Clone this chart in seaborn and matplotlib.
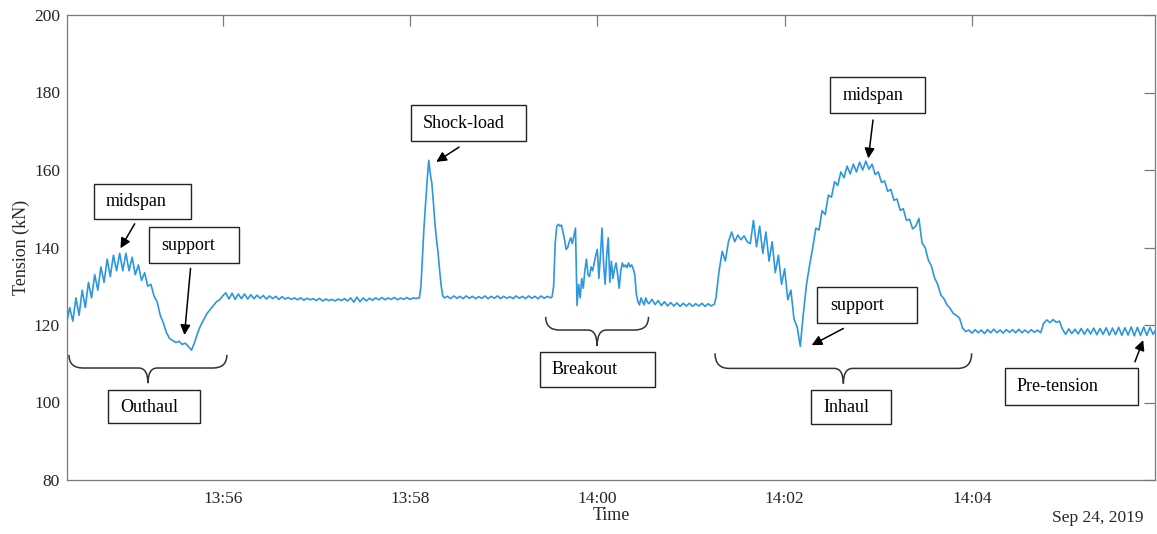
import matplotlib
matplotlib.use('Agg')
import matplotlib.pyplot as plt
import matplotlib.dates as mdates
from matplotlib.path import Path
from matplotlib.patches import PathPatch, Rectangle
import pandas as pd
import seaborn as sns

day = '2019-09-24 '

# tension record (kN)
outhaul_start, outhaul_step = '13:54:20', 2
outhaul_kN = [120.5, 124.5, 121, 127, 122.5, 129, 124.5, 131, 127, 133,
              129, 135, 131, 137, 132.5, 138, 134, 138.5, 134, 138.5,
              134, 137.5, 133, 135.5, 131.5, 133.5, 130, 130.5, 127.5, 126,
              122.5, 120.5, 118, 116.5, 116, 115.5, 115.8, 115, 115.3, 114.5,
              113.5, 115.5, 118, 120, 121.5, 123, 124, 125, 126, 126.5, 127.5]

steady1_start, steady1_step = '13:56:02', 2
steady1_kN = [128.3, 126.7, 128.2, 126.6, 128.0, 126.8, 128.0, 126.7, 127.8, 126.8,
              127.7, 126.9, 127.6, 126.7, 127.5, 126.8, 127.4, 126.6, 127.3, 126.7,
              127.1, 126.6, 127.0, 126.5, 127.0, 126.4, 126.9, 126.5, 126.8, 126.3,
              126.9, 126.2, 126.7, 126.3, 126.6, 126.2, 126.7, 126.3, 126.8, 126.2,
              127.0, 125.9, 127.2, 126.0, 127.0, 126.2, 126.9, 126.4, 127.0, 126.5,
              127.1, 126.5, 127.0, 126.6, 127.1, 126.5, 127.0, 126.6, 127.1, 126.6,
              127.0, 126.8]

shock_start, shock_step = '13:58:05', 1
shock_kN = [127, 127, 130, 138, 145.5, 151.5, 157.5, 162.5, 159, 156.5,
            151.5, 146, 142, 138.5, 134, 130, 127.5, 127]

steady2_start, steady2_step = '13:58:24', 2
steady2_kN = [127.4, 126.8, 127.5, 126.9, 127.4, 126.8, 127.5, 126.9, 127.4, 126.8,
              127.3, 126.9, 127.5, 126.8, 127.4, 126.9, 127.5, 126.8, 127.4, 126.9,
              127.3, 126.8, 127.5, 126.9, 127.4, 126.8, 127.5, 126.9, 127.4, 126.8,
              127.5, 126.9, 127.4, 127.0]

breakout_start, breakout_step = '13:59:31', 1
breakout_kN = [127.3, 130, 141, 145.5, 146, 145.5, 145.8, 144, 142, 139.5,
               140, 141.5, 142.5, 141, 143, 145, 125, 130.5, 127, 132,
               129.5, 134, 137, 133, 132.5, 135, 134, 136, 138, 139.5,
               132, 138, 145, 136, 130.5, 138, 142.5, 131, 136.5, 132,
               134.5, 136, 133, 129.5, 134, 136, 135, 135.5, 134.8, 136,
               135, 135.5, 134.5, 133, 128, 126, 125.2, 127, 126, 125.2,
               127, 126, 125.5]

steady3_start, steady3_step = '14:00:35', 2
steady3_kN = [126.6, 125.3, 126.3, 125.0, 126.0, 124.9, 125.8, 124.9, 125.7, 124.8,
              125.6, 124.9, 125.6, 124.8, 125.5, 124.9, 125.6, 124.8, 125.5, 124.9,
              125.4]

inhaul_start, inhaul_step = '14:01:16', 2
inhaul_kN = [127, 134, 139, 136.5, 141.5, 144, 141.5, 143.2, 142, 143,
             141.5, 141, 147, 140.2, 145.5, 138.5, 144, 136.5, 141.5, 133.5,
             138, 130.5, 134.5, 126.5, 129, 121.5, 119.5, 114.5, 123, 130.5,
             135.5, 140, 145, 144.5, 149.5, 148.5, 153.5, 153, 157, 156,
             159.5, 158, 161, 159, 161.5, 159.5, 162, 160, 162.3, 160.2,
             161.5, 158.8, 159.5, 156.8, 157.2, 154.5, 155, 152.2, 152.5, 149.6,
             150, 147, 147.3, 144.8, 145.5, 147.5, 141.2, 140, 136.8, 135.2,
             132.2, 130.5, 127.8, 126.8, 125.2, 124.3, 123, 122.5, 121.8, 119.2,
             118.3]

tail_start, tail_step = '14:03:58', 2
tail_kN = [118.7, 117.9, 118.8, 118.0, 118.7, 117.8, 118.8, 118.0, 118.9, 118.0,
           118.7, 117.9, 118.8, 118.1, 118.8, 118.0, 118.9, 118.0, 118.7, 118.0,
           118.8, 118.1, 118.7, 118.0, 120.5, 121.3, 120.6, 121.4, 120.7, 121.0,
           118.9, 117.6, 119.0, 117.8, 118.9, 117.7, 119.1, 117.6, 119.0, 117.7,
           119.2, 117.5, 119.1, 117.6, 119.3, 117.4, 119.2, 117.5, 119.4, 117.3,
           119.3, 117.4, 119.5, 117.2, 119.4, 117.3, 119.5, 117.3, 119.4, 117.6,
           118.9]

segments = [
    (outhaul_start, outhaul_step, outhaul_kN),
    (steady1_start, steady1_step, steady1_kN),
    (shock_start, shock_step, shock_kN),
    (steady2_start, steady2_step, steady2_kN),
    (breakout_start, breakout_step, breakout_kN),
    (steady3_start, steady3_step, steady3_kN),
    (inhaul_start, inhaul_step, inhaul_kN),
    (tail_start, tail_step, tail_kN),
]
frames = []
for start, step, vals in segments:
    frames.append(pd.DataFrame({
        'Time': pd.date_range(day + start, periods=len(vals), freq=f'{step}s'),
        'Tension': vals,
    }))
df = pd.concat(frames, ignore_index=True)

# annotation layout (time, kN)
boxes = [
    # label, left, right, bottom, top, text x, text y
    ('midspan', '13:54:37.5', '13:55:39.4', 147.4, 156.4, '13:54:45.0', 151.8),
    ('support', '13:55:13.0', '13:56:10.3', 135.9, 145.2, '13:55:20.5', 140.4),
    ('Outhaul', '13:54:46.5', '13:55:45.2', 94.7, 103.2, '13:54:54.5', 98.6),
    ('Shock-load', '13:58:00.6', '13:59:14.3', 167.5, 176.8, '13:58:08.3', 172.1),
    ('Breakout', '13:59:23.0', '14:00:36.9', 104.1, 113.1, '13:59:30.8', 108.6),
    ('midspan', '14:02:29.1', '14:03:29.9', 174.6, 183.9, '14:02:37.2', 179.2),
    ('support', '14:02:20.9', '14:03:24.6', 120.4, 129.7, '14:02:29.1', 125.0),
    ('Inhaul', '14:02:16.9', '14:03:07.9', 94.5, 103.2, '14:02:24.6', 98.6),
    ('Pre-tension', '14:04:21.2', '14:05:46.5', 99.4, 108.8, '14:04:28.8', 104.1),
]
arrows = [
    # tail time, tail kN, head time, head kN
    ('13:55:03.6', 146.1, '13:54:54.5', 139.8),
    ('13:55:39.4', 134.6, '13:55:35.5', 117.4),
    ('13:58:31.4', 165.9, '13:58:16.8', 162.1),
    ('14:02:56.6', 172.9, '14:02:53.6', 163.0),
    ('14:02:37.6', 119.1, '14:02:17.3', 114.8),
    ('14:05:44.4', 110.5, '14:05:49.7', 116.1),
]
braces = [
    # left, right, top, bar, tip
    ('13:54:21.5', '13:56:02.7', 112.3, 108.9, 105.0),
    ('13:59:26.9', '14:00:32.8', 122.1, 118.7, 114.6),
    ('14:01:15.4', '14:03:59.8', 112.7, 108.8, 104.9),
]


def tnum(hms):
    return mdates.date2num(pd.Timestamp(day + hms))


sns.set_style('white')
plt.rcParams['font.family'] = ['Liberation Serif', 'DejaVu Serif']

fig = plt.figure(figsize=(11.57, 5.34), dpi=100)
ax = fig.add_axes([67 / 1157, 54 / 534, 1088 / 1157, 465 / 534])

sns.lineplot(data=df, x='Time', y='Tension', ax=ax, estimator=None, sort=False,
             color='#2C97DE', linewidth=1.2)

ax.set_xlim(tnum('13:54:20.26'), tnum('14:05:57.25'))
ax.set_ylim(80, 200)
ax.set_yticks(range(80, 201, 20))
ax.xaxis.set_major_locator(mdates.MinuteLocator(byminute=range(0, 60, 2)))
ax.xaxis.set_major_formatter(mdates.DateFormatter('%H:%M'))

axis_grey = '#7a7a7a'
for sp in ax.spines.values():
    sp.set_visible(True)
    sp.set_color(axis_grey)
    sp.set_linewidth(0.9)
ax.tick_params(direction='in', length=7.8, width=0.9, color=axis_grey,
               top=True, right=True, labelsize=12.5, labelcolor='#262626')
ax.tick_params(axis='x', pad=8)
ax.tick_params(axis='y', pad=5)
ax.set_xlabel('Time', fontsize=13, color='#262626', labelpad=0)
ax.set_ylabel('Tension (kN)', fontsize=13, color='#262626', labelpad=3)
fig.text(1143 / 1157, 1 - 517.5 / 534, 'Sep 24, 2019', ha='right', va='center',
         fontsize=12.5, color='#262626')

for label, x0, x1, y0, y1, tx, ty in boxes:
    a, b = tnum(x0), tnum(x1)
    ax.add_patch(Rectangle((a, y0), b - a, y1 - y0, fill=False, edgecolor='#222222',
                           linewidth=1.0, clip_on=False, zorder=4))
    ax.text(tnum(tx), ty, label, ha='left', va='center', fontsize=13,
            color='black', zorder=5)

for tx, ty, hx, hy in arrows:
    ax.annotate('', xy=(tnum(hx), hy), xytext=(tnum(tx), ty),
                arrowprops=dict(arrowstyle='-|>', color='black', lw=1.1,
                                mutation_scale=15, shrinkA=0, shrinkB=0),
                zorder=5)

r_end = 9 / 86400
r_mid = 6 / 86400
for x0, x1, yt, ym, yp in braces:
    a, b = tnum(x0), tnum(x1)
    c = (a + b) / 2
    verts = [(a, yt), (a, ym), (a + r_end, ym),
             (c - r_mid, ym),
             (c, ym), (c, yp),
             (c, ym), (c + r_mid, ym),
             (b - r_end, ym),
             (b, ym), (b, yt)]
    codes = [Path.MOVETO, Path.CURVE3, Path.CURVE3,
             Path.LINETO,
             Path.CURVE3, Path.CURVE3,
             Path.CURVE3, Path.CURVE3,
             Path.LINETO,
             Path.CURVE3, Path.CURVE3]
    ax.add_patch(PathPatch(Path(verts, codes), fill=False, edgecolor='#333333',
                           linewidth=1.1, clip_on=False, zorder=4))

fig.savefig('out.png', dpi=100)
